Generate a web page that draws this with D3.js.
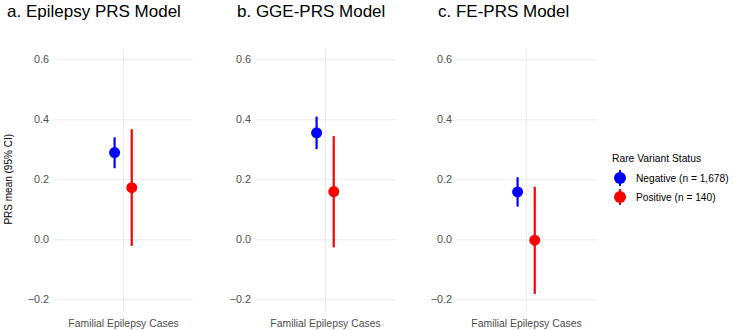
<!DOCTYPE html>
<html>
<head>
<meta charset="utf-8">
<script src="https://cdn.jsdelivr.net/npm/d3@7"></script>
<style>
  body { margin: 0; background: #fff; }
  svg { font-family: "Liberation Sans", Arial, sans-serif; }
</style>
</head>
<body>
<div id="chart"></div>
<script>
// panel titles and the single x category
const panelTitles = ['a. Epilepsy PRS Model', 'b. GGE-PRS Model', 'c. FE-PRS Model'];
const categories = ['Familial Epilepsy Cases'];

// PRS mean and 95% CI, rare variant negative
const negMean = [0.289, 0.355, 0.158];
const negLow = [0.237, 0.301, 0.109];
const negHigh = [0.340, 0.409, 0.207];

// PRS mean and 95% CI, rare variant positive
const posMean = [0.172, 0.159, -0.003];
const posLow = [-0.022, -0.027, -0.182];
const posHigh = [0.367, 0.344, 0.175];

const yTicks = [-0.2, 0.0, 0.2, 0.4, 0.6];
const groups = ['Negative (n = 1,678)', 'Positive (n = 140)'];
const colors = ['#0000FF', '#FF0000'];

const width = 733, height = 330;
const panelLeft = [53, 255, 456];
const panelWidth = 140;
const plotTop = 47.3, plotBottom = 311.3;

const svg = d3.select('#chart').append('svg')
  .attr('width', width)
  .attr('height', height);

// shared scales
const y = d3.scaleLinear().domain([-0.24, 0.64]).range([plotBottom, plotTop]);
const x = d3.scaleLinear().domain([0.4, 1.6]).range([0, panelWidth]);
const dodge = [-0.072, 0.075];

panelTitles.forEach((title, i) => {
  const g = svg.append('g').attr('transform', `translate(${panelLeft[i]},0)`);

  // y gridlines + tick labels
  const yAxis = g.append('g')
    .call(d3.axisLeft(y).tickValues(yTicks).tickSize(-panelWidth).tickPadding(4)
      .tickFormat(d => d3.format('.1f')(d).replace('-', '\u2212')));
  yAxis.select('.domain').remove();
  yAxis.selectAll('.tick line').attr('stroke', '#EBEBEB').attr('stroke-width', 1);
  yAxis.selectAll('.tick text').attr('fill', '#4D4D4D').style('font-size', '10.8px');

  // x gridline + category label
  const xAxis = g.append('g')
    .attr('transform', `translate(0,${plotBottom})`)
    .call(d3.axisBottom(x).tickValues([1]).tickSize(-(plotBottom - plotTop)).tickPadding(8)
      .tickFormat(() => categories[0]));
  xAxis.select('.domain').remove();
  xAxis.selectAll('.tick line').attr('stroke', '#EBEBEB').attr('stroke-width', 1);
  xAxis.selectAll('.tick text').attr('fill', '#4D4D4D').style('font-size', '10.4px');

  // title, aligned to the tick labels
  g.append('text')
    .attr('x', i === 0 ? -46 : -18)
    .attr('y', 17)
    .style('font-size', '17px')
    .attr('fill', '#000')
    .text(title);

  // point ranges
  const rows = [
    { mean: negMean[i], lo: negLow[i], hi: negHigh[i], k: 0 },
    { mean: posMean[i], lo: posLow[i], hi: posHigh[i], k: 1 }
  ];
  const pr = g.selectAll('.pr').data(rows).enter().append('g').attr('class', 'pr');
  pr.append('line')
    .attr('x1', d => x(1 + dodge[d.k]))
    .attr('x2', d => x(1 + dodge[d.k]))
    .attr('y1', d => y(d.lo))
    .attr('y2', d => y(d.hi))
    .attr('stroke', d => colors[d.k])
    .attr('stroke-width', 2.2);
  pr.append('circle')
    .attr('cx', d => x(1 + dodge[d.k]))
    .attr('cy', d => y(d.mean))
    .attr('r', 5.5)
    .attr('fill', d => colors[d.k]);
});

// y axis title
svg.append('text')
  .attr('transform', `translate(12,${(plotTop + plotBottom) / 2}) rotate(-90)`)
  .attr('text-anchor', 'middle')
  .style('font-size', '10px')
  .attr('fill', '#000')
  .text('PRS mean (95% CI)');

// legend
const legend = svg.append('g').attr('transform', 'translate(612,0)');
legend.append('text')
  .attr('x', 0).attr('y', 162)
  .style('font-size', '10.3px')
  .text('Rare Variant Status');
const items = legend.selectAll('.item').data(groups).enter().append('g')
  .attr('transform', (d, i) => `translate(0,${178 + i * 19})`);
items.append('line')
  .attr('x1', 8).attr('x2', 8).attr('y1', -8).attr('y2', 8)
  .attr('stroke', (d, i) => colors[i]).attr('stroke-width', 2);
items.append('circle')
  .attr('cx', 8).attr('cy', 0).attr('r', 6)
  .attr('fill', (d, i) => colors[i]);
items.append('text')
  .attr('x', 24).attr('y', 4)
  .style('font-size', '10.2px')
  .text(d => d);
</script>
</body>
</html>
